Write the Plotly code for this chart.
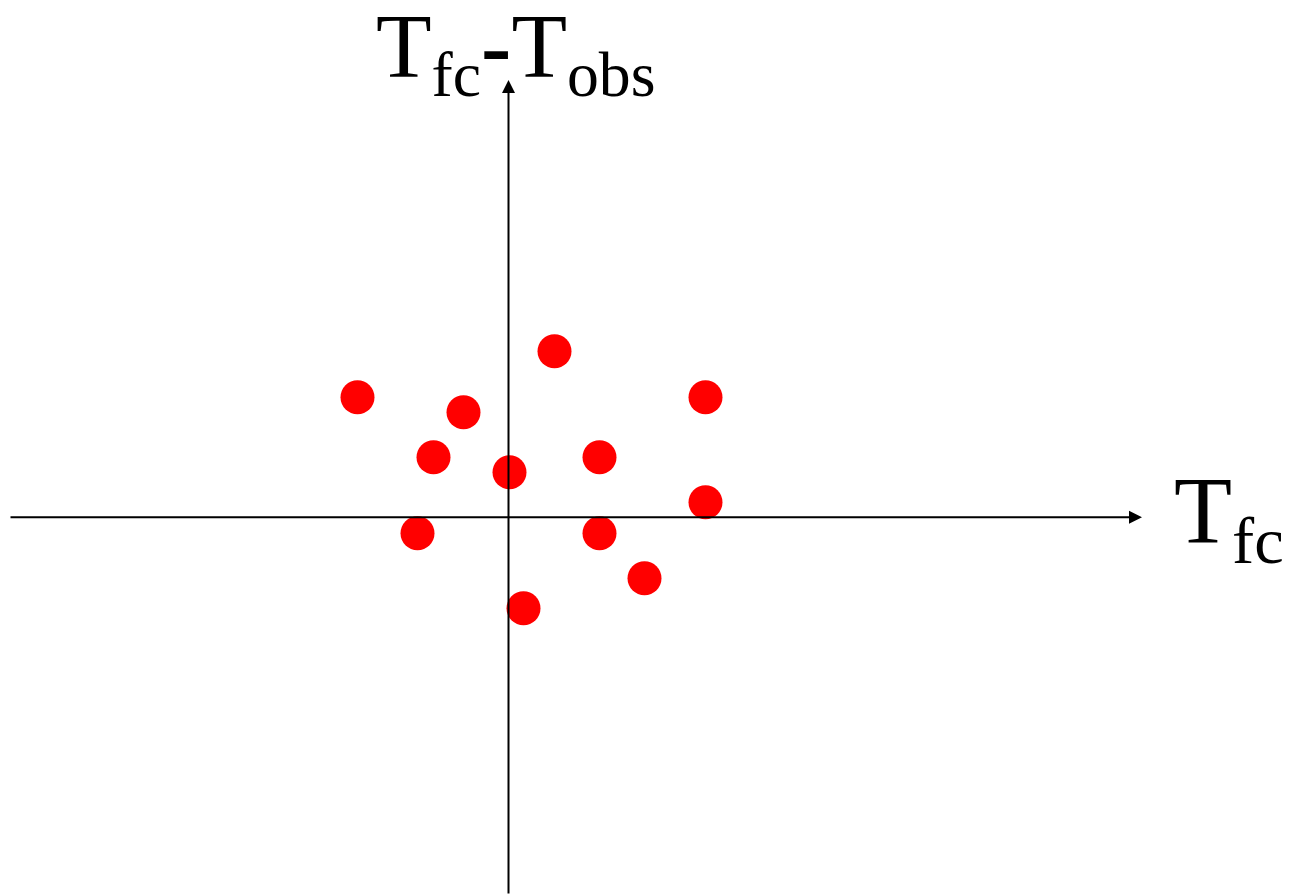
import plotly.graph_objects as go

# Data (arbitrary units, origin at axis crossing)
x_vals = [-15.1, -4.5, 4.6, 19.7, -7.5, 0.1, 9.1, 19.7, -9.1, 9.1, 13.6, 1.5]
y_vals = [12.0, 10.5, 16.6, 12.0, 6.0, 4.5, 6.0, 1.5, -1.6, -1.6, -6.1, -9.1]

x_label = "T<sub>fc</sub>"
y_label = "T<sub>fc</sub><b>-</b>T<sub>obs</sub>"

W, H = 1291, 895
ox, oy, s = 508.5, 517.3, 10.0  # origin pixel and pixels per unit
x_range = [(0 - ox) / s, (W - ox) / s]
y_range = [(oy - H) / s, (oy - 0) / s]

fig = go.Figure()
fig.add_trace(go.Scatter(
    x=x_vals, y=y_vals, mode="markers",
    marker=dict(color="#ff0000", size=34, line=dict(width=0)),
    showlegend=False, hoverinfo="skip",
))

font_family = "Liberation Serif, Times New Roman, serif"
annos = [
    # horizontal axis arrow
    dict(x=(1142 - ox) / s, y=0, ax=(9 - ox) / s, ay=0, xref="x", yref="y",
         axref="x", ayref="y", showarrow=True, arrowhead=2, arrowsize=1.3,
         arrowwidth=2, arrowcolor="black", text=""),
    # vertical axis arrow
    dict(x=0, y=(oy - 80) / s, ax=0, ay=(oy - 895) / s, xref="x", yref="y",
         axref="x", ayref="y", showarrow=True, arrowhead=2, arrowsize=1.3,
         arrowwidth=2, arrowcolor="black", text=""),
    dict(x=(1172 - ox) / s, y=(oy - 517) / s, xref="x", yref="y", text=x_label,
         showarrow=False, xanchor="left", yanchor="middle",
         font=dict(family=font_family, size=95, color="black")),
    dict(x=(374 - ox) / s, y=(oy - 53) / s, xref="x", yref="y", text=y_label,
         showarrow=False, xanchor="left", yanchor="middle",
         font=dict(family=font_family, size=91, color="black")),
]

fig.update_layout(
    width=W, height=H,
    margin=dict(l=0, r=0, t=0, b=0),
    paper_bgcolor="white", plot_bgcolor="white",
    xaxis=dict(range=x_range, visible=False, fixedrange=True),
    yaxis=dict(range=y_range, visible=False, fixedrange=True),
    annotations=annos,
)

fig.write_html("out.html", config={"displayModeBar": False},
               post_script="document.body.style.margin='0';")
